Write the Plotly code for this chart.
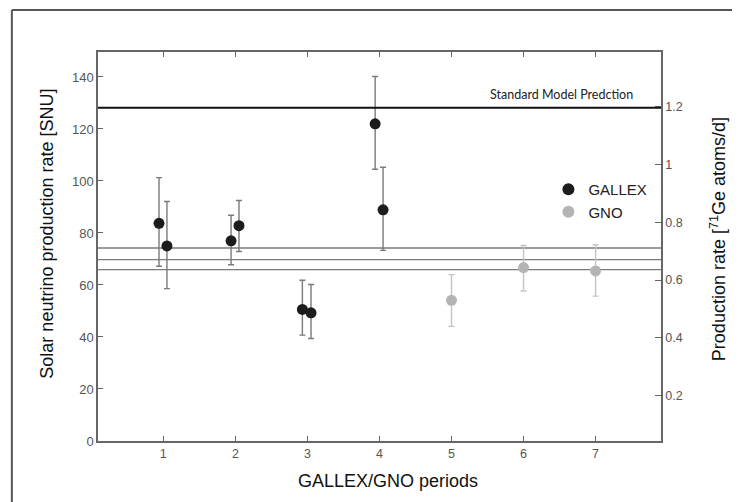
import plotly.graph_objects as go

# ---- data ----
gallex_x = [0.94, 1.05, 1.94, 2.05, 2.93, 3.05, 3.94, 4.05]
gallex_y = [83.7, 75.0, 77.0, 82.8, 50.6, 49.3, 122.0, 88.9]
gallex_hi = [101.3, 92.1, 86.8, 92.5, 61.8, 60.2, 140.2, 105.3]
gallex_lo = [67.2, 58.6, 67.8, 72.9, 40.7, 39.4, 104.5, 73.3]

gno_x = [5.0, 6.0, 7.0]
gno_y = [54.1, 66.7, 65.4]
gno_hi = [64.0, 75.2, 75.5]
gno_lo = [44.1, 57.7, 55.7]

mean_lines = [74.2, 69.75, 65.9]
ssm_value = 128.2
ssm_label = "Standard Model Predction"

x_ticks = [1, 2, 3, 4, 5, 6, 7]
y_ticks = [0, 20, 40, 60, 80, 100, 120, 140]
y2_ticks = [0.2, 0.4, 0.6, 0.8, 1.0, 1.2]
y2_ticktext = ["0.2", "0.4", "0.6", "0.8", "1", "1.2"]

FONT = "Liberation Sans, Arial, sans-serif"
AX = "#666666"

fig = go.Figure()

fig.add_trace(go.Scatter(
    x=gallex_x, y=gallex_y, mode="markers", name="GALLEX",
    marker=dict(color="#1c1c1c", size=11),
    error_y=dict(type="data", symmetric=False,
                 array=[h - v for h, v in zip(gallex_hi, gallex_y)],
                 arrayminus=[v - l for l, v in zip(gallex_lo, gallex_y)],
                 color="#7a7a7a", thickness=1.4, width=3),
))
fig.add_trace(go.Scatter(
    x=gno_x, y=gno_y, mode="markers", name="GNO",
    marker=dict(color="#b4b4b4", size=11),
    error_y=dict(type="data", symmetric=False,
                 array=[h - v for h, v in zip(gno_hi, gno_y)],
                 arrayminus=[v - l for l, v in zip(gno_lo, gno_y)],
                 color="#c4c4c4", thickness=1.4, width=3),
))
fig.add_trace(go.Scatter(x=[None], y=[None], yaxis="y2", showlegend=False,
                         hoverinfo="skip"))

shapes = []
for v in mean_lines:
    shapes.append(dict(type="line", xref="paper", x0=0, x1=1, yref="y", y0=v, y1=v,
                       line=dict(color="#7a7a7a", width=1.4), layer="below"))
shapes.append(dict(type="line", xref="paper", x0=0, x1=1, yref="y", y0=ssm_value,
                   y1=ssm_value, line=dict(color="#111111", width=2)))
# outer frame (top and left edges visible)
shapes.append(dict(type="line", xref="paper", yref="paper", x0=-0.153, x1=1.2,
                   y0=1.108, y1=1.108, line=dict(color="#555555", width=2)))
shapes.append(dict(type="line", xref="paper", yref="paper", x0=-0.153, x1=-0.153,
                   y0=1.108, y1=-0.2, line=dict(color="#555555", width=2)))

annotations = [
    dict(text=ssm_label, xref="x", yref="y", x=7.55, y=133.3, xanchor="right",
         yanchor="middle", showarrow=False,
         font=dict(family="Lato, Open Sans, sans-serif", size=12.5, color="#222222")),
    dict(text="Solar neutrino production rate [SNU]", xref="paper", yref="paper",
         x=-0.0906, y=0.533, textangle=-90, showarrow=False,
         xanchor="center", yanchor="middle",
         font=dict(family=FONT, size=18, color="#111111")),
    dict(text="GALLEX/GNO periods", xref="paper", yref="paper", x=0.515, y=-0.103,
         showarrow=False, xanchor="center", yanchor="middle",
         font=dict(family=FONT, size=18, color="#111111")),
    dict(text="Production rate [<sup>71</sup>Ge atoms/d]", xref="paper", yref="paper",
         x=1.102, y=0.52, textangle=-90, showarrow=False,
         xanchor="center", yanchor="middle",
         font=dict(family=FONT, size=18, color="#111111")),
]

# page body has an 8px margin: figure is 732x494 so it fills the 740x502 window
fig.update_layout(
    width=732, height=494,
    margin=dict(l=90, r=79.3, t=44, b=60.5, autoexpand=False),
    paper_bgcolor="white", plot_bgcolor="white",
    font=dict(family=FONT, color="#555555"),
    showlegend=True,
    legend=dict(x=0.80, y=0.689, xanchor="left", yanchor="top",
                bgcolor="rgba(0,0,0,0)", font=dict(family=FONT, size=15, color="#222222"),
                itemsizing="constant", tracegroupgap=0),
    xaxis=dict(range=[0.093, 7.908], tickvals=x_ticks, ticks="inside", ticklen=5,
               tickcolor=AX, showline=True, linecolor=AX, linewidth=1.5,
               mirror="ticks", showgrid=False, zeroline=False,
               tickfont=dict(size=12.5, color="#555555")),
    yaxis=dict(range=[0, 149.6], tickvals=y_ticks, ticks="inside", ticklen=5,
               tickcolor=AX, showline=True, linecolor=AX, linewidth=1.5,
               showgrid=False, zeroline=False,
               tickfont=dict(size=13, color="#555555")),
    yaxis2=dict(range=[0.0433, 1.389], overlaying="y", side="right",
                tickvals=y2_ticks, ticktext=y2_ticktext, ticks="inside", ticklen=6,
                tickcolor=AX, showline=True, linecolor=AX, linewidth=1.5,
                showgrid=False, zeroline=False,
                tickfont=dict(size=12.5, color="#555555")),
    shapes=shapes,
    annotations=annotations,
)

fig.write_html("out.html")
